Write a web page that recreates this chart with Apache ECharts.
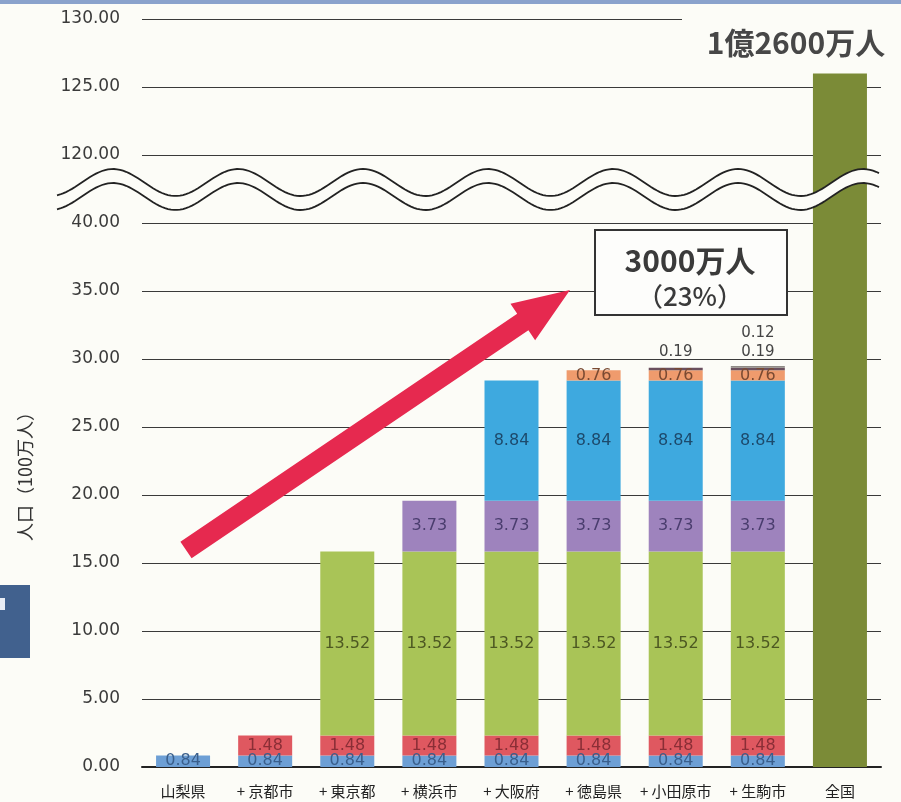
<!DOCTYPE html>
<html>
<head>
<meta charset="utf-8">
<script src="https://cdn.jsdelivr.net/npm/echarts@6/dist/echarts.min.js"></script>
<style>
html,body{margin:0;padding:0;background:#fcfcf7;}
#c{width:901px;height:802px;}
</style>
</head>
<body>
<div id="c"></div>
<script>
// ---- data ----
var categories = ['山梨県', '+ 京都市', '+ 東京都', '+ 横浜市', '+ 大阪府', '+ 徳島県', '+ 小田原市', '+ 生駒市', '全国'];
var yamanashi = [0.84, 0.84, 0.84, 0.84, 0.84, 0.84, 0.84, 0.84, null];
var kyoto     = [null, 1.48, 1.48, 1.48, 1.48, 1.48, 1.48, 1.48, null];
var tokyo     = [null, null, 13.52, 13.52, 13.52, 13.52, 13.52, 13.52, null];
var yokohama  = [null, null, null, 3.73, 3.73, 3.73, 3.73, 3.73, null];
var osaka     = [null, null, null, null, 8.84, 8.84, 8.84, 8.84, null];
var tokushima = [null, null, null, null, null, 0.76, 0.76, 0.76, null];
var odawara   = [null, null, null, null, null, null, 0.19, 0.19, null];
var ikoma     = [null, null, null, null, null, null, null, 0.12, null];
var zenkoku   = [null, null, null, null, null, null, null, null, 126];
var yTickValues = [0, 5, 10, 15, 20, 25, 30, 35, 40, 120, 125, 130];

// broken axis: values above the break are shifted down by 75
var BREAK_LOW = 40, BREAK_SHIFT = 75;
function toAxis(v) { return v == null ? null : (v > BREAK_LOW ? v - BREAK_SHIFT : v); }
function fromAxis(v) { return v > BREAK_LOW ? v + BREAK_SHIFT : v; }

var chart = echarts.init(document.getElementById('c'), null, {renderer: 'canvas'});
var numFont = 'DejaVu Sans';
var jpFont = 'Noto Sans CJK JP';

function seg(name, data, color, labelColor, extra) {
  var s = {
    name: name,
    type: 'bar',
    stack: 'pop',
    barWidth: 54,
    data: data.map(toAxis),
    itemStyle: {color: color},
    label: {
      show: true,
      position: 'inside',
      color: labelColor,
      fontFamily: numFont,
      fontSize: 16,
      formatter: function (p) { return p.value == null ? '' : Number(p.value).toFixed(2); }
    },
    silent: true
  };
  if (extra) extra(s);
  return s;
}

var series = [
  seg('山梨県', yamanashi, '#6d9fd5', '#3a5f8c'),
  seg('京都市', kyoto, '#df5860', '#8a2e36'),
  seg('東京都', tokyo, '#a9c457', '#4d5822'),
  seg('横浜市', yokohama, '#9e83bd', '#4a3d6e'),
  seg('大阪府', osaka, '#3ea9df', '#1d4a6c'),
  seg('徳島県', tokushima, '#ef9b6d', '#7a4a32'),
  seg('小田原市', odawara, '#6a4f5e', '#444', function (s) {
    s.label.position = 'top';
    s.label.distance = 8;
    s.label.fontSize = 15;
  }),
  seg('生駒市', ikoma, '#8f8a86', '#444', function (s) {
    s.label.position = 'top';
    s.label.distance = 25;
    s.label.fontSize = 15;
  }),
  {
    name: '全国',
    type: 'bar',
    stack: 'pop',
    barWidth: 54,
    data: zenkoku.map(toAxis),
    itemStyle: {color: '#7b8b37'},
    label: {
      show: true,
      position: 'top',
      distance: 16,
      offset: [-44, 0],
      formatter: '1億2600万人',
      fontFamily: jpFont,
      fontWeight: 'bold',
      fontSize: 30,
      color: '#474747'
    },
    silent: true
  }
];

// wave break decoration
function wavePts(x0, x1, yc, amp, period, phaseX) {
  var pts = [];
  for (var x = x0; x <= x1; x += 3) {
    pts.push([x, yc - amp * Math.cos(2 * Math.PI * (x - phaseX) / period)]);
  }
  return pts;
}
var upper = wavePts(57, 880, 182.5, 13.5, 125, 113);
var lower = wavePts(57, 880, 196.5, 13.5, 125, 113);
var band = upper.concat(lower.slice().reverse());

// arrow decoration
function arrowPts(tail, tip, shaftHalf, headHalf, headLen) {
  var dx = tip[0] - tail[0], dy = tip[1] - tail[1];
  var L = Math.sqrt(dx * dx + dy * dy);
  var ux = dx / L, uy = dy / L, px = -uy, py = ux;
  var bx = tip[0] - ux * headLen, by = tip[1] - uy * headLen;
  return [
    [tail[0] + px * shaftHalf, tail[1] + py * shaftHalf],
    [bx + px * shaftHalf, by + py * shaftHalf],
    [bx + px * headHalf, by + py * headHalf],
    tip,
    [bx - px * headHalf, by - py * headHalf],
    [bx - px * shaftHalf, by - py * shaftHalf],
    [tail[0] - px * shaftHalf, tail[1] - py * shaftHalf]
  ];
}

var option = {
  backgroundColor: '#fcfcf7',
  animation: false,
  grid: {left: 142, right: 20, top: 19, bottom: 35, containLabel: false},
  xAxis: {
    type: 'category',
    data: categories,
    axisLine: {show: true, lineStyle: {color: '#222', width: 2}},
    axisTick: {show: false},
    axisLabel: {color: '#222', fontFamily: jpFont, fontSize: 15, margin: 17, interval: 0}
  },
  yAxis: {
    type: 'value',
    min: 0,
    max: 55,
    interval: 5,
    axisLine: {show: false},
    axisTick: {show: false},
    splitLine: {show: true, lineStyle: {color: '#3a3a3a', width: 1.2}},
    axisLabel: {
      color: '#3a3a3a',
      fontFamily: numFont,
      fontSize: 17,
      margin: 22,
      formatter: function (v) {
        var real = fromAxis(v);
        return yTickValues.indexOf(real) >= 0 ? real.toFixed(2) : '';
      }
    }
  },
  series: series,
  graphic: [
    // top strip and left page artifact
    {type: 'rect', shape: {x: 0, y: 0, width: 901, height: 4}, style: {fill: '#8aa2cc'}, z: 50, silent: true},
    {type: 'rect', shape: {x: 0, y: 585, width: 30, height: 73}, style: {fill: '#41618e'}, z: 50, silent: true},
    {type: 'rect', shape: {x: 0, y: 598, width: 5, height: 12}, style: {fill: '#e8edf5'}, z: 51, silent: true},
    // shorten top gridline
    {type: 'rect', shape: {x: 682, y: 15, width: 210, height: 8}, style: {fill: '#fcfcf7'}, z: 50, silent: true},
    // wave break
    {type: 'polygon', shape: {points: band}, style: {fill: '#fcfcf7'}, z: 60, silent: true},
    {type: 'polyline', shape: {points: upper}, style: {stroke: '#222', lineWidth: 1.8, fill: null}, z: 61, silent: true},
    {type: 'polyline', shape: {points: lower}, style: {stroke: '#222', lineWidth: 1.8, fill: null}, z: 61, silent: true},
    // arrow
    {type: 'polygon', shape: {points: arrowPts([186, 550], [570, 290], 10, 22, 57)}, style: {fill: '#e6294f'}, z: 60, silent: true},
    // annotation box
    {type: 'rect', shape: {x: 595, y: 230, width: 192, height: 85}, style: {fill: '#fdfdfb', stroke: '#333', lineWidth: 2}, z: 60, silent: true},
    {type: 'text', x: 690, y: 261, style: {text: '3000万人', fill: '#3a3a3a', font: 'bold 30px "Noto Sans CJK JP"', textAlign: 'center', textVerticalAlign: 'middle'}, z: 62, silent: true},
    {type: 'text', x: 690, y: 296, style: {text: '（23%）', fill: '#3a3a3a', font: '500 26px "Noto Sans CJK JP"', textAlign: 'center', textVerticalAlign: 'middle'}, z: 62, silent: true},
    // y axis title
    {type: 'text', x: 25, y: 472, rotation: Math.PI / 2, style: {text: '人口（100万人）', fill: '#333', font: '18px "Noto Sans CJK JP"', textAlign: 'center', textVerticalAlign: 'middle'}, z: 62, silent: true}
  ]
};
chart.setOption(option);
</script>
</body>
</html>
